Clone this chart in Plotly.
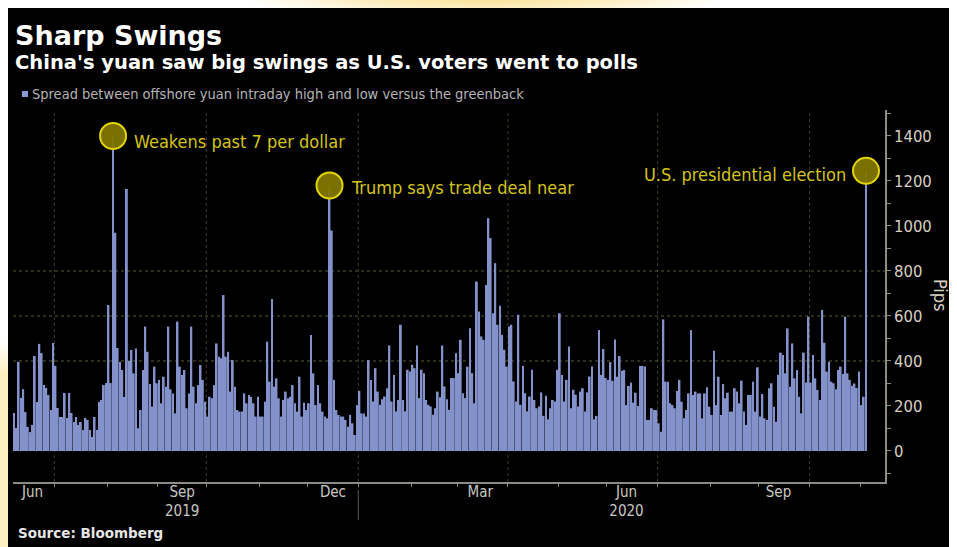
import pandas as pd
import plotly.graph_objects as go

# ---- data: daily spread (pips), one list per month (business days) ----
jun_2019 = [169, 102, 396, 235, 275, 173, 107, 84, 116, 422, 218, 476, 435, 293, 280, 249, 182, 480]
jul_2019 = [378, 191, 151, 151, 258, 147, 258, 169, 129, 151, 116, 129, 93, 147, 138, 93, 62, 151, 93, 218, 227, 293, 302]
aug_2019 = [649, 302, 1400, 970, 458, 396, 360, 240, 1164, 400, 449, 345, 456, 101, 182, 360, 553, 441, 298, 197, 375, 301]
sep_2019 = [316, 212, 330, 286, 553, 274, 256, 167, 575, 375, 338, 360, 190, 256, 553, 286, 212, 293, 382, 316, 219]
oct_2019 = [153, 241, 234, 293, 478, 419, 412, 693, 419, 441, 264, 404, 286, 182, 175, 175, 256, 212, 249, 241, 212, 153, 241]
nov_2019 = [153, 153, 219, 486, 308, 675, 286, 323, 234, 153, 227, 264, 234, 241, 293, 212, 175, 330, 153, 215, 182]
dec_2019 = [212, 515, 345, 204, 293, 212, 175, 153, 145, 1180, 980, 316, 182, 160, 153, 153, 138, 108, 160, 123, 71, 204]
jan_2020 = [267, 167, 167, 153, 404, 316, 220, 368, 264, 205, 230, 242, 279, 469, 220, 338, 176, 227, 561, 227, 176, 361, 353]
feb_2020 = [383, 368, 469, 235, 361, 346, 227, 205, 198, 161, 190, 264, 239, 469, 287, 230, 183, 324, 324, 435]
mar_2020 = [346, 494, 257, 235, 375, 546, 346, 212, 753, 620, 509, 494, 738, 1035, 946, 612, 835, 561, 645, 516, 450, 375]
apr_2020 = [553, 561, 309, 220, 605, 205, 378, 257, 176, 242, 361, 227, 190, 198, 260, 156, 245, 141, 190, 227, 220, 361]
may_2020 = [612, 338, 220, 316, 464, 190, 272, 250, 198, 264, 279, 176, 260, 331, 375, 141, 156, 538, 338, 453, 324]
jun_2020 = [316, 395, 312, 496, 330, 422, 357, 360, 204, 289, 304, 215, 259, 200, 378, 378, 375, 138, 138, 190, 182, 182]
jul_2020 = [123, 86, 585, 308, 308, 212, 204, 190, 267, 316, 219, 145, 182, 256, 538, 249, 264, 256, 256, 145, 256, 283, 197]
aug_2020 = [160, 446, 204, 330, 160, 298, 234, 259, 175, 175, 279, 264, 212, 313, 175, 116, 249, 249, 308, 175, 372]
sep_2020 = [153, 253, 145, 138, 279, 301, 197, 130, 338, 437, 427, 345, 545, 286, 478, 323, 360, 241, 167, 437, 304, 597]
oct_2020 = [304, 427, 323, 271, 227, 627, 481, 353, 397, 308, 301, 274, 360, 375, 342, 597, 345, 316, 290, 300, 280, 353]
nov_2020 = [204, 241, 1245]

months = [jun_2019, jul_2019, aug_2019, sep_2019, oct_2019, nov_2019, dec_2019,
          jan_2020, feb_2020, mar_2020, apr_2020, may_2020, jun_2020, jul_2020,
          aug_2020, sep_2020, oct_2020, nov_2020]
values = [v for m in months for v in m]
dates = pd.bdate_range("2019-06-05", "2020-11-04")
assert len(dates) == len(values), (len(dates), len(values))
bar_x = dates + pd.Timedelta(hours=12)

event_dates = ["2019-08-05", "2019-12-13", "2020-11-04"]
event_labels = ["Weakens past 7 per dollar", "Trump says trade deal near", "U.S. presidential election"]
date_list = list(dates)
event_values = [values[date_list.index(pd.Timestamp(d))] for d in event_dates]
event_x = [pd.Timestamp(d) + pd.Timedelta(hours=12) for d in event_dates]

# axis tick lists
month_ticks = ["2019-07-01", "2019-08-01", "2019-09-02", "2019-10-01", "2019-11-01", "2019-12-02",
               "2020-01-01", "2020-02-03", "2020-03-02", "2020-04-01", "2020-05-01", "2020-06-01",
               "2020-07-01", "2020-08-03", "2020-09-01", "2020-10-01", "2020-11-02"]
label_pos = ["2019-06-17 12:00", "2019-09-16 12:00", "2019-12-17 00:00",
             "2020-03-16 00:00", "2020-06-11 12:00", "2020-09-11 12:00"]
label_text = ["Jun", "Sep<br>2019", "Dec", "Mar", "Jun<br>2020", "Sep"]
quarter_lines = ["2019-07-01", "2019-10-01", "2020-01-01", "2020-04-01", "2020-07-01", "2020-10-01"]
y_ticks = [0, 200, 400, 600, 800, 1000, 1200, 1400]
y_minor = [-100, 100, 300, 500, 700, 900, 1100, 1300, 1500]
grid_levels = [400, 600, 800]

COND = "DejaVu Sans Condensed, DejaVu Sans, sans-serif"
BOLD = "DejaVu Sans, Verdana, sans-serif"
AXIS_COL = "#8c8c84"
TEXT_COL = "#d6d0c0"
YELLOW = "#d4c417"

fig = go.Figure()
fig.add_trace(go.Bar(x=bar_x, y=values, marker=dict(color="#8492cb", line=dict(width=0)),
                     name="Spread between offshore yuan intraday high and low versus the greenback",
                     hoverinfo="x+y"))
fig.add_trace(go.Scatter(x=event_x, y=event_values, mode="markers",
                         marker=dict(size=26, color="rgba(128,118,0,0.95)",
                                     line=dict(color="#e2d400", width=2)),
                         hoverinfo="skip"))

shapes = []
for lv in grid_levels:
    shapes.append(dict(type="line", xref="paper", x0=0, x1=1, yref="y", y0=lv, y1=lv,
                       line=dict(color="rgba(120,120,70,0.75)", width=1, dash="dot"), layer="below"))
for q in quarter_lines:
    shapes.append(dict(type="line", xref="x", x0=q, x1=q, yref="paper", y0=0, y1=1,
                       line=dict(color="rgba(110,110,70,0.55)", width=1, dash="dot"), layer="below"))
# year separator
shapes.append(dict(type="line", xref="x", x0="2020-01-01", x1="2020-01-01", yref="paper",
                   y0=-0.0215, y1=-0.102, line=dict(color="#5a5a5a", width=1)))
# legend swatch
shapes.append(dict(type="rect", xref="paper", yref="paper", x0=0.0103, x1=0.0172, y0=1.035, y1=1.051,
                   fillcolor="#8a9ad8", line=dict(width=0)))

annotations = [
    dict(text="<b>Sharp Swings</b>", xref="paper", yref="paper", x=0.0005, y=1.2016,
         xanchor="left", yanchor="middle", showarrow=False,
         font=dict(family=BOLD, size=27, color="#ffffff")),
    dict(text="<b>China's yuan saw big swings as U.S. voters went to polls</b>", xref="paper", yref="paper",
         x=0.0005, y=1.129, xanchor="left", yanchor="middle", showarrow=False,
         font=dict(family=BOLD, size=19.5, color="#ffffff")),
    dict(text="Spread between offshore yuan intraday high and low versus the greenback", xref="paper",
         yref="paper", x=0.0195, y=1.043, xanchor="left", yanchor="middle", showarrow=False,
         font=dict(family=COND, size=14.5, color="#b4b4b4")),
    dict(text="<b>Source: Bloomberg</b>", xref="paper", yref="paper", x=0.003, y=-0.137,
         xanchor="left", yanchor="middle", showarrow=False,
         font=dict(family=BOLD, size=13.5, color="#e6e6e6")),
    dict(text="Pips", xref="paper", yref="paper", x=1.0631, y=0.5027, textangle=90,
         xanchor="center", yanchor="middle", showarrow=False,
         font=dict(family=COND, size=18, color=TEXT_COL)),
]
yshifts = [-6, -2, -4]
for i, (ex, ev, lab) in enumerate(zip(event_x, event_values, event_labels)):
    right = i == 2
    annotations.append(dict(text=lab, xref="x", yref="y", x=ex, y=ev,
                            xanchor="right" if right else "left", yanchor="middle",
                            xshift=-18 if right else 19, yshift=yshifts[i],
                            showarrow=False, font=dict(family=COND, size=18, color=YELLOW)))

fig.update_layout(
    width=949, height=539,
    margin=dict(l=5, r=72, t=102, b=65),
    paper_bgcolor="#000000", plot_bgcolor="#000000",
    showlegend=False, bargap=0.22,
    shapes=shapes, annotations=annotations,
    xaxis=dict(type="date", range=["2019-06-05 01:00", "2020-11-16 18:00"],
               rangebreaks=[dict(bounds=["sat", "mon"])],
               tickmode="array", tickvals=label_pos, ticktext=label_text, ticks="", ticklen=0,
               ticklabelstandoff=-5,
               tickfont=dict(family=COND, size=15, color="#c8c8c0"),
               showgrid=False, zeroline=False, showline=True, linecolor=AXIS_COL, linewidth=1.5,
               minor=dict(tickmode="array", tickvals=month_ticks, ticks="outside", ticklen=3,
                          tickcolor=AXIS_COL, tickwidth=1, showgrid=False)),
    yaxis=dict(side="right", range=[-137.8, 1515.5], tickmode="array", tickvals=y_ticks,
               ticks="outside", ticklen=4, tickcolor=AXIS_COL, tickwidth=1,
               tickfont=dict(family=COND, size=16.5, color=TEXT_COL),
               showgrid=False, zeroline=False, showline=True, linecolor=AXIS_COL, linewidth=1.5,
               minor=dict(tickmode="array", tickvals=y_minor, ticks="outside", ticklen=4,
                          tickcolor=AXIS_COL, tickwidth=1, showgrid=False)),
)

page_bg = ("document.body.style.background = "
           "'radial-gradient(ellipse 240px 16px at 485px 0px, #fbe39a 0%, #fdf0c8 55%, rgba(255,255,255,0) 100%) no-repeat, "
           "linear-gradient(to bottom, #ffffff 0px, #ffffff 340px, #fdf0c0 375px, #fdf0c0 100%) 0 0 / 8px 547px no-repeat, "
           "#ffffff';")

fig.write_html("out.html", post_script=page_bg)
